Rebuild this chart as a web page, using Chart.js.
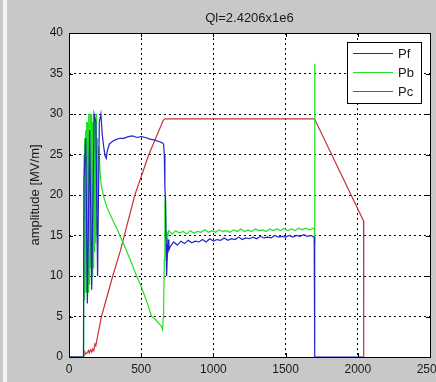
<!DOCTYPE html>
<html>
<head>
<meta charset="utf-8">
<script src="https://cdn.jsdelivr.net/npm/chart.js@4"></script>
<style>
  html, body { margin: 0; padding: 0; background: #c8c8c8; }
  #wrap { width: 436px; height: 382px; position: relative; }
</style>
</head>
<body>
<div id="wrap"><canvas id="plot" width="436" height="382"></canvas></div>
<script>
// Forward, reflected and cavity amplitudes in MV/m
const titleText = 'Ql=2.4206x1e6';
const yLabel = 'amplitude [MV/m]';
const seriesNames = ['Pf', 'Pb', 'Pc'];
const xTicks = [0, 500, 1000, 1500, 2000, 2500];
const yTicks = [0, 5, 10, 15, 20, 25, 30, 35, 40];

const pfX = [0, 100, 104, 116, 127, 143, 157, 174, 186, 198,
  210, 221, 230, 240, 250, 258, 266, 280, 300, 320, 350, 380, 410, 440, 470, 500, 530, 560,
  590, 620, 640, 655, 660, 664, 668, 672, 676, 680, 686, 692,
  700, 725, 750, 775, 800, 825, 850, 875, 900, 925, 950, 975, 1000, 1025, 1050, 1075, 1100, 1125, 1150,
  1175, 1200, 1225, 1250, 1275, 1300, 1325, 1350, 1375, 1400, 1425, 1450, 1475, 1500, 1525, 1550, 1575,
  1600, 1625, 1650, 1675, 1698, 1700, 1703, 2040];
const pfY = [0, 0, 22, 27, 6.6, 28, 8.3, 30, 29, 10,
  29, 30, 27.5, 26, 24.8, 24.5, 25.5, 26.3, 26.6, 26.8, 27, 27, 27.2, 27.3, 27.1, 27.2, 27.1, 26.9,
  26.8, 26.6, 26.5, 26.3, 25, 21, 19.5, 14, 10, 12, 14.5, 13.2,
  13.6, 14.2, 13.8, 14.3, 14.0, 14.4, 14.1, 14.3, 14.2, 14.5, 14.2, 14.6, 14.3, 14.5, 14.4, 14.7, 14.4, 14.6, 14.5,
  14.8, 14.5, 14.7, 14.6, 14.8, 14.6, 14.9, 14.7, 14.8, 14.7, 15.0, 14.8, 14.9, 14.8, 15.0, 14.8, 15.0,
  14.9, 15.1, 14.9, 15.0, 14.8, 12, 0, 0];

const pbX = [0, 100, 102, 104, 106, 108, 110, 112, 114, 116, 118, 120, 122, 124, 126, 128, 130, 132, 134, 136,
  138, 140, 142, 144, 146, 148, 150, 152, 154, 156, 158, 160, 162, 164, 166, 168, 170, 172, 174, 176,
  178, 180, 182, 184, 186, 188, 190, 192, 194, 196, 198, 200, 206, 212, 218, 225, 232, 240,
  250, 262, 280, 300, 330, 353, 380, 420, 468, 500, 540, 572, 600, 620, 640, 648, 655, 660, 664, 668,
  672, 678, 690, 715, 740, 765, 790, 815, 840, 865, 890, 915, 940, 965, 990, 1015, 1040, 1065, 1090,
  1115, 1140, 1165, 1190, 1215, 1240, 1265, 1290, 1315, 1340, 1365, 1390, 1415, 1440, 1465, 1490, 1515,
  1540, 1565, 1590, 1615, 1640, 1665, 1690, 1699, 1701, 1703];
const pbY = [0, 0, 8, 25, 9, 27, 7, 26, 10, 28, 8, 22, 29, 9, 27, 12, 29, 8, 28, 10,
  30, 9, 27, 12, 30, 11, 29, 14, 28, 9, 30, 10, 27, 13, 29, 11, 30, 12, 28, 15,
  30, 13, 29, 14, 27, 16, 30, 15, 27, 18, 26, 20, 26, 24, 22, 21, 20.5, 19.8,
  19.2, 18.5, 17.8, 17, 15.9, 15, 13.9, 12.2, 10, 8.7, 6.8, 5, 4.6, 4.2, 3.8, 3.4, 5.5, 12, 19, 20,
  15.5, 14, 15.6, 15.2, 15.6, 15.3, 15.5, 15.2, 15.6, 15.3, 15.5, 15.4, 15.7, 15.4, 15.6, 15.4, 15.7, 15.5, 15.6,
  15.4, 15.7, 15.5, 15.8, 15.5, 15.7, 15.5, 15.8, 15.6, 15.7, 15.5, 15.8, 15.6, 15.8, 15.6, 15.9, 15.6,
  15.8, 15.6, 15.9, 15.7, 15.9, 15.7, 15.9, 15.8, 36.2, 14];

const pcX = [0, 100, 104, 110, 115, 125, 135, 140, 150, 158, 165, 172, 180, 186, 191, 225, 303, 357, 456, 553,
  652, 664, 1700, 2040, 2041];
const pcY = [0, 0, 0.3, 0.6, 0.4, 0.5, 0.8, 0.5, 0.9, 0.6, 1.0, 0.8, 1.6, 1.4, 1.9, 5, 10, 13.2, 20, 25,
  29.2, 29.4, 29.4, 16.8, 0];

const colors = ['#2424c8', '#22e022', '#c8323c'];

function toPoints(xs, ys) {
  return xs.map((x, i) => ({ x: x, y: ys[i] }));
}

const FONT = '"Liberation Sans", Arial, sans-serif';

// Gray figure, white axes, solid frame with inward ticks, title, label, legend
const matlabLook = {
  id: 'matlabLook',
  beforeDraw(chart) {
    const c = chart.ctx;
    const a = chart.chartArea;
    c.save();
    c.fillStyle = '#c8c8c8';
    c.fillRect(0, 0, chart.width, chart.height);
    c.fillStyle = '#f2f2f2';
    c.fillRect(3, 0, 4, chart.height);
    c.fillStyle = '#ffffff';
    c.fillRect(a.left, a.top, a.right - a.left, a.bottom - a.top);
    c.restore();
  },
  afterDraw(chart) {
    const c = chart.ctx;
    const a = chart.chartArea;
    const xs = chart.scales.x, ys = chart.scales.y;
    c.save();
    c.strokeStyle = '#000';
    c.lineWidth = 1;
    c.setLineDash([]);
    c.strokeRect(Math.round(a.left) + 0.5, Math.round(a.top) + 0.5,
      Math.round(a.right - a.left), Math.round(a.bottom - a.top));
    c.beginPath();
    xTicks.forEach(v => {
      const px = Math.round(xs.getPixelForValue(v)) + 0.5;
      c.moveTo(px, a.bottom); c.lineTo(px, a.bottom - 4);
      c.moveTo(px, a.top); c.lineTo(px, a.top + 4);
    });
    yTicks.forEach(v => {
      const py = Math.round(ys.getPixelForValue(v)) + 0.5;
      c.moveTo(a.left, py); c.lineTo(a.left + 4, py);
      c.moveTo(a.right, py); c.lineTo(a.right - 4, py);
    });
    c.stroke();

    // title and y label
    c.fillStyle = '#1a1a1a';
    c.font = '13px ' + FONT;
    c.textAlign = 'center';
    c.textBaseline = 'middle';
    c.fillText(titleText, (a.left + a.right) / 2, 18);
    c.save();
    c.translate(35, (a.top + a.bottom) / 2);
    c.rotate(-Math.PI / 2);
    c.fillText(yLabel, 0, 0);
    c.restore();

    // legend box
    const bx = 347, by = 42, bw = 74, bh = 61;
    c.fillStyle = '#fff';
    c.fillRect(bx, by, bw, bh);
    c.strokeStyle = '#000';
    c.strokeRect(bx + 0.5, by + 0.5, bw, bh);
    c.textAlign = 'left';
    chart.data.datasets.forEach((ds, i) => {
      const ly = by + 11 + i * 19;
      c.strokeStyle = ds.borderColor;
      c.beginPath();
      c.moveTo(bx + 6, ly + 0.5);
      c.lineTo(bx + 46, ly + 0.5);
      c.stroke();
      c.fillStyle = '#1a1a1a';
      c.fillText(ds.label, bx + 51, ly + 1);
    });
    c.restore();
  }
};

const ctx = document.getElementById('plot').getContext('2d');
new Chart(ctx, {
  type: 'line',
  data: {
    datasets: [
      { label: seriesNames[0], data: toPoints(pfX, pfY), borderColor: colors[0] },
      { label: seriesNames[1], data: toPoints(pbX, pbY), borderColor: colors[1] },
      { label: seriesNames[2], data: toPoints(pcX, pcY), borderColor: colors[2] }
    ]
  },
  options: {
    responsive: false,
    animation: false,
    parsing: false,
    normalized: true,
    clip: false,
    datasets: {
      line: { borderWidth: 1.2, pointRadius: 0, tension: 0, fill: false }
    },
    layout: { padding: { top: 33, right: 6, left: 0, bottom: 0 } },
    plugins: {
      legend: { display: false },
      title: { display: false },
      tooltip: { enabled: false }
    },
    scales: {
      x: {
        type: 'linear',
        min: 0, max: 2500,
        afterBuildTicks: s => { s.ticks = xTicks.map(v => ({ value: v })); },
        afterFit: s => { s.height = 25; s.paddingLeft = 0; s.paddingRight = 0; },
        grid: { color: '#000', lineWidth: 1, drawTicks: false },
        border: { display: false, dash: [2, 3] },
        ticks: { color: '#1a1a1a', padding: 5, maxRotation: 0, autoSkip: false,
          callback: v => String(v),
          font: { family: FONT, size: 12 } }
      },
      y: {
        type: 'linear',
        min: 0, max: 40,
        afterBuildTicks: s => { s.ticks = yTicks.map(v => ({ value: v })); },
        afterFit: s => { s.width = 69; s.paddingTop = 0; s.paddingBottom = 0; },
        grid: { color: '#000', lineWidth: 1, drawTicks: false },
        border: { display: false, dash: [2, 3] },
        ticks: { color: '#1a1a1a', padding: 6, callback: v => String(v),
          font: { family: FONT, size: 12 } }
      }
    }
  },
  plugins: [matlabLook]
});
</script>
</body>
</html>
